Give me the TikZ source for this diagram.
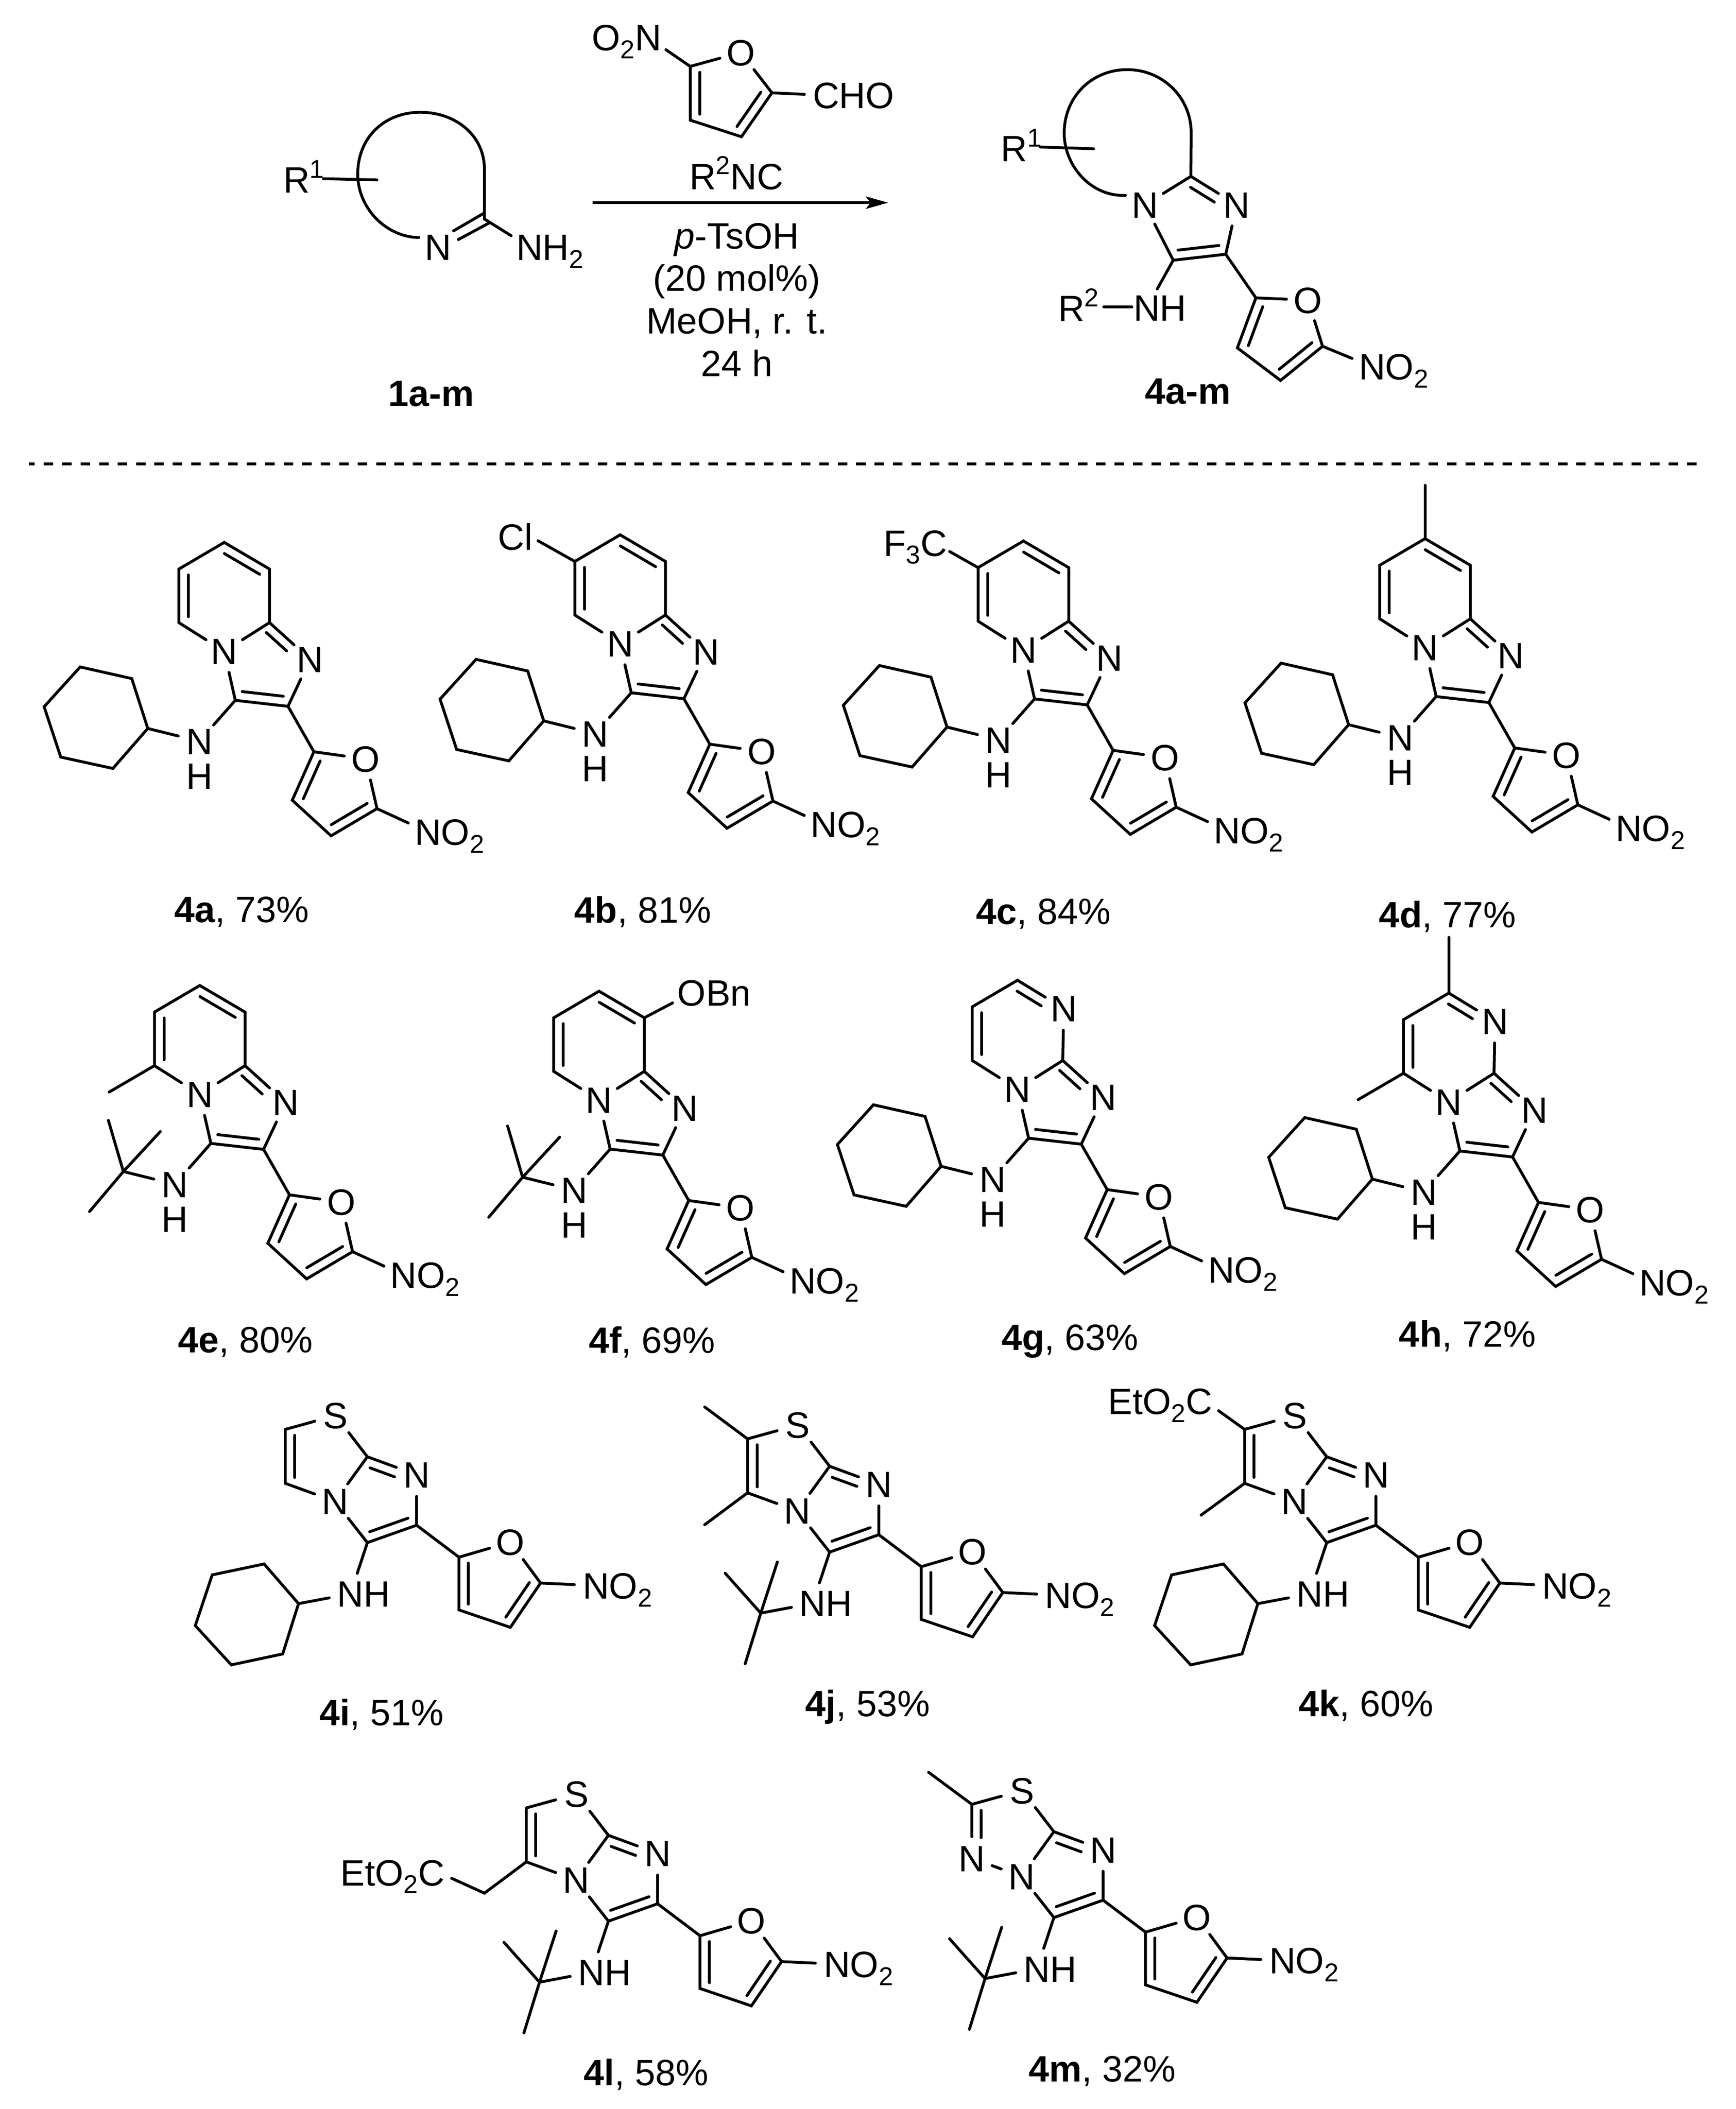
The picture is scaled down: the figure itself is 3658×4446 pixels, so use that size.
\documentclass[tikz,border=0pt]{standalone}
\usepackage{fontspec}
\setmainfont{Liberation Sans}
\usetikzlibrary{positioning,calc,arrows.meta}

\newcommand\chemfont{\fontsize{22}{25.5}\selectfont}
\newcommand\sbs[1]{\raisebox{-4.75pt}{\fontsize{15.5}{16}\selectfont #1}}
\newcommand\sps[1]{\raisebox{9pt}{\fontsize{15.5}{16}\selectfont #1}}
\newcommand\nogroup{N\rlap{O\sbs{2}}}

\tikzset{
    atom/.style={circle,minimum size=.85cm,text height=15.75pt,text depth=0pt},
    yield/.style={anchor=base},
}

% second line of a double bond, on the left of the way a to b
\newcommand\inbond[4]{\draw ($(#1)!#3!(#2)!.2cm!90:(#2)$) -- ($(#2)!#4!(#1)!.2cm!-90:(#1)$);}
\newcommand\ccin[2]{\inbond{#1}{#2}{.11}{.11}}

% imidazole, furan and NH of 4a-h, placed as in 4a
\newcommand\coreA{
    \coordinate (c8a) at (568,1312.5);
    \node[atom] (nb) at (472.6,1373) {N};
    \node[atom] (n3) at (653.5,1390) {N};
    \coordinate (c2) at (607,1489);
    \coordinate (c3) at (496,1476.4);
    \coordinate (fa) at (661.6,1584.8);
    \node[atom] (fo) at (770.7,1600) {O};
    \coordinate (fb) at (794.6,1704.7);
    \coordinate (fc) at (697.8,1762);
    \coordinate (fd) at (616,1686.9);
    \node[atom] (no) at (902,1754) {\nogroup};
    \node[atom] (nh) at (420,1562.5) {N};
    \node[atom,below=-.18cm of nh] (hh) {H};
    \coordinate (cy) at (311.5,1535.7);
    \coordinate (top) at (472.6,1143.5);
    \coordinate (ul) at (377,1199.6);
    \coordinate (ll) at (377,1312.5);
    \draw (c8a) -- (nb) -- (c3) -- (c2) -- (n3) -- (c8a);
    \draw (c3) -- (nh) -- (cy);
    \draw (c2) -- (fa) -- (fo) -- (fb) -- (fc) -- (fd) -- (fa);
    \draw (fb) -- (no);
    \inbond{n3}{c8a}{.42}{.08}
    \ccin{c3}{c2}
    \ccin{fa}{fd}
    \ccin{fc}{fb}
    \draw (c8a) -- (ur) -- (top) -- (ul) -- (ll) -- (nb);
    \ccin{ul}{ll}
}
\newcommand\pyrA{
    \coordinate (ur) at (568,1199.6);
    \coreA
    \ccin{ur}{top}
}
\newcommand\pymA{
    \node[atom] (ur) at (570,1203) {N};
    \coreA
    \inbond{ur}{top}{.38}{.1}
}
\newcommand\chxA{\draw (cy) -- (277.7,1430.5) -- (169,1406) -- (93,1489.8) -- (128,1596) -- (238,1620) -- cycle;}
\newcommand\tbuA{\draw (cy) -- +(-31.6,-107.9) (cy) -- +(78,-84.4) (cy) -- +(-71.3,84.3);}

% imidazole, furan and NH of 4i-m, placed as in 4i
\newcommand\coreB{
    \node[atom] (sa) at (707.4,2984) {S};
    \coordinate (ca) at (601.3,3013.3);
    \node[atom] (nb) at (706,3165) {N};
    \coordinate (c7a) at (774.3,3071);
    \node[atom] (n3) at (878,3109) {N};
    \coordinate (c2) at (878,3215.3);
    \coordinate (c3) at (774.3,3252);
    \coordinate (fa) at (967.4,3282.7);
    \node[atom] (fo) at (1075.7,3251) {O};
    \coordinate (fb) at (1139.3,3337.2);
    \coordinate (fc) at (1075.7,3430.6);
    \coordinate (fd) at (967.4,3393.9);
    \node[atom] (no) at (1256,3342.6) {\nogroup};
    \node[atom] (nh) at (738.6,3360) {N\rlap{H}};
    \coordinate (cy) at (629.2,3380.6);
    \draw (ca) -- (sa) -- (c7a) -- (nb) -- (c3) -- (c2) -- (n3) -- (c7a);
    \draw (c3) -- (nh) -- (cy);
    \draw (c2) -- (fa) -- (fo) -- (fb) -- (fc) -- (fd) -- (fa);
    \draw (fb) -- (no);
    \inbond{n3}{c7a}{.38}{.12}
    \ccin{c3}{c2}
    \ccin{fa}{fd}
    \ccin{fc}{fb}
}
\newcommand\thzB{
    \coordinate (cb) at (601.3,3127);
    \coreB
    \draw (ca) -- (cb) -- (nb);
    \ccin{ca}{cb}
}
\newcommand\chxB{\draw (cy) -- (556.7,3297) -- (447.3,3320) -- (411.6,3427) -- (487.5,3509.7) -- (595.8,3486.7) -- cycle;}
\newcommand\tbuB{\draw (cy) -- +(35,-108) (cy) -- +(-75,-84) (cy) -- +(-33,107);}

\begin{document}
\begin{tikzpicture}[x=.01cm,y=-.01cm,line width=.06cm,line cap=round,
    every node/.style={font=\chemfont,inner sep=0pt}]
\useasboundingbox (0,0) rectangle (3658,4446);

% amidine 1a-m
\node[anchor=base west,inner sep=2pt] (ra) at (587,406.7) {R\sps{1}};
\coordinate (raa) at (681.4,376.7);
\coordinate (rab) at (794.4,379.3);
\draw (raa) -- (rab);
\node[atom] (na) at (923.8,520.7) {N};
\node[atom] (nha) at (1116,521) {N\rlap{H\sbs{2}}};
\coordinate (ca) at (1021,461.7);
\coordinate (caa) at (1019,450);
\coordinate (cab) at (956,486.7);
\coordinate (cac) at (1031,470);
\coordinate (cad) at (966,505);
\draw (na.154) .. controls (815,500) and (754,440) .. (754,366.7)
    .. controls (754,290) and (810,236.7) .. (886,236.7)
    .. controls (960,236.7) and (1021,285) .. (1021,356.7) -- (ca) -- (nha);
\draw (caa) -- (cab) (cac) -- (cad);
\node[yield] (laba) at (909,856.5) {\textbf{1a-m}};

% nitrofuran aldehyde
\node[atom] (nof) at (1366,79) {\llap{O\sbs{2}}N};
\node[atom] (of) at (1561.3,110.7) {O};
\node[atom] (cho) at (1741,201) {C\rlap{HO}};
\coordinate (fe) at (1454.8,140);
\coordinate (ff) at (1454.8,253.3);
\coordinate (fg) at (1562.7,288.3);
\coordinate (fh) at (1627,195.7);
\draw (nof) -- (fe) -- (of) -- (fh) -- (fg) -- (ff) -- (fe);
\draw (fh) -- (cho);
\ccin{fe}{ff}
\ccin{fg}{fh}

% reaction arrow and conditions
\node[yield] (isoc) at (1552,399.3) {R\sps{2}NC};
\coordinate (arra) at (1249,427.3);
\coordinate (arrb) at (1872,427.3);
\draw[-{Stealth[length=.47cm,width=.26cm,inset=.1cm]},line cap=butt] (arra) -- (arrb);
\node[align=center,anchor=north] (cond) at (1553,467)
    {\textit{p}-TsOH\\(20 mol\%)\\MeOH, r. t.\\24 h};

% product 4a-m
\node[anchor=base west,inner sep=2pt] (rb) at (2099.5,340.7) {R\sps{1}};
\coordinate (rba) at (2193,310);
\coordinate (rbb) at (2305,313.6);
\draw (rba) -- (rbb);
\node[atom] (pa) at (2413,431.8) {N};
\node[atom] (pb) at (2606.7,431.8) {N};
\coordinate (pc) at (2510,371.8);
\coordinate (pd) at (2472.8,548.6);
\coordinate (pe) at (2583.5,536);
\node[atom] (pnh) at (2417,649) {N\rlap{H}};
\coordinate (pnha) at (2385.7,647);
\node[anchor=base west,inner sep=2pt] (rc) at (2220,678) {R\sps{2}};
\coordinate (pf) at (2647,628);
\node[atom] (po) at (2757,632.6) {O};
\coordinate (pg) at (2787.5,730);
\coordinate (ph) at (2699,802);
\coordinate (pi) at (2608,733.4);
\node[atom] (pno) at (2892,773) {\nogroup};
\draw (pa.154) .. controls (2300,415) and (2243,350) .. (2243,280.7)
    .. controls (2243,205) and (2300,146.8) .. (2376,146.8)
    .. controls (2450,146.8) and (2510.7,205) .. (2510.7,280.7) -- (pc);
\draw (pa) -- (pc) -- (pb) -- (pe) -- (pd) -- (pa);
\draw (pd) -- (pnh);
\draw (pnha) -- (pnha -| rc.east);
\draw (pe) -- (pf) -- (po) -- (pg) -- (ph) -- (pi) -- (pf);
\draw (pg) -- (pno);
\inbond{pb}{pc}{.38}{.1}
\ccin{pd}{pe}
\ccin{pf}{pi}
\ccin{ph}{pg}
\node[yield] (labb) at (2504,851) {\textbf{4a-m}};

% separator
\coordinate (sepa) at (61,977.7);
\coordinate (sepb) at (3580,977.7);
\draw[line cap=butt,dash pattern=on .2cm off .189cm,dash phase=.08cm] (sepa) -- (sepb);

% 4a-d
\begin{scope}[name prefix=a-]
    \pyrA \chxA
\end{scope}
\begin{scope}[shift={(834.5,-16)},name prefix=b-]
    \pyrA \chxA
    \node[anchor=base] (cl) at (251.5,1175.5) {Cl};
    \coordinate (clb) at (299.5,1156);
    \draw (ul) -- (clb);
\end{scope}
\begin{scope}[shift={(1684.5,-3)},name prefix=c-]
    \pyrA \chxA
    \node[anchor=base west] (cf) at (175,1175) {F\sbs{3}C};
    \coordinate (cfb) at (316.9,1165.6);
    \draw (ul) -- (cfb);
\end{scope}
\begin{scope}[shift={(2531,-8)},name prefix=d-]
    \pyrA \chxA
    \coordinate (mea) at (472.6,1031);
    \draw (top) -- (mea);
\end{scope}

% 4e-h
\begin{scope}[shift={(-51.5,934)},name prefix=e-]
    \pyrA \tbuA
    \draw (ll) -- +(-95.5,55.7);
\end{scope}
\begin{scope}[shift={(790,946)},name prefix=f-]
    \pyrA \tbuA
    \node[atom] (obn) at (668,1147) {O\rlap{Bn}};
    \draw (ur) -- (obn);
\end{scope}
\begin{scope}[shift={(1672,923)},name prefix=g-]
    \pymA \chxA
\end{scope}
\begin{scope}[shift={(2581,950)},name prefix=h-]
    \pymA \chxA
    \draw (ll) -- +(-95.5,55.7);
    \coordinate (meb) at (472.6,1026);
    \draw (top) -- (meb);
\end{scope}

% 4i-k
\begin{scope}[name prefix=i-]
    \thzB \chxB
\end{scope}
\begin{scope}[shift={(974.3,20)},name prefix=j-]
    \thzB \tbuB
    \draw (ca) -- +(-90.4,-67.3);
    \draw (cb) -- +(-90.4,67.3);
\end{scope}
\begin{scope}[shift={(2022,0)},name prefix=k-]
    \thzB \chxB
    \node[anchor=base east] (est) at (536,2981.6) {EtO\sbs{2}C};
    \coordinate (estb) at (546.4,2974);
    \draw (ca) -- (estb);
    \draw (cb) -- +(-91.8,67);
\end{scope}

% 4l, 4m
\begin{scope}[shift={(508,798)},name prefix=l-]
    \thzB \tbuB
    \node[anchor=base east] (est) at (432,3177) {EtO\sbs{2}C};
    \coordinate (cha) at (513,3193);
    \coordinate (chb) at (444,3161.6);
    \draw (cb) -- (cha) -- (chb);
\end{scope}
\begin{scope}[shift={(1447,790.4)},name prefix=m-]
    \node[atom] (cb) at (601.3,3127) {N};
    \coreB \tbuB
    \draw (ca) -- (cb) -- (nb);
    \inbond{ca}{cb}{.11}{.38}
    \draw (ca) -- +(-91,-67.5);
\end{scope}

% yields
\node[yield] (laa) at (509,1944) {\textbf{4a}, 73\%};
\node[yield] (lab) at (1355,1945) {\textbf{4b}, 81\%};
\node[yield] (lac) at (2199.5,1948) {\textbf{4c}, 84\%};
\node[yield] (lad) at (3051,1955) {\textbf{4d}, 77\%};
\node[yield] (lae) at (517,2851) {\textbf{4e}, 80\%};
\node[yield] (laf) at (1374.5,2852.5) {\textbf{4f}, 69\%};
\node[yield] (lag) at (2255.7,2846.7) {\textbf{4g}, 63\%};
\node[yield] (lah) at (3093,2839) {\textbf{4h}, 72\%};
\node[yield] (lai) at (804.5,3637) {\textbf{4i}, 51\%};
\node[yield] (laj) at (1829,3618) {\textbf{4j}, 53\%};
\node[yield] (lak) at (2879,3618) {\textbf{4k}, 60\%};
\node[yield] (lal) at (1362,4396) {\textbf{4l}, 58\%};
\node[yield] (lam) at (2323.6,4388.6) {\textbf{4m}, 32\%};
\end{tikzpicture}
\end{document}
